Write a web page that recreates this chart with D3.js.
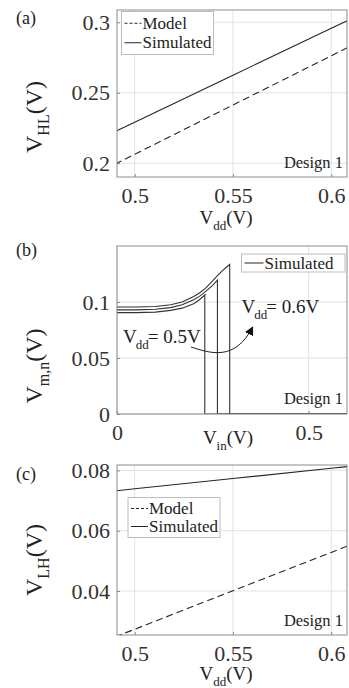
<!DOCTYPE html>
<html><head><meta charset="utf-8">
<script src="https://cdn.jsdelivr.net/npm/d3@7"></script>
<style>
body{margin:0;background:#fff;}
svg text{font-family:"Liberation Serif","Times New Roman",Times,Tinos,"DejaVu Serif","Noto Serif",serif;}
</style></head>
<body><svg id="c" width="349" height="688"></svg>
<script>
// ---------- data ----------
// Panel (a): V_HL vs Vdd
const vddA = [0.49, 0.5, 0.55, 0.6, 0.61];
const vhlModel = [0.1994, 0.2063, 0.2413, 0.2762, 0.2832];
const vhlSim   = [0.2224, 0.2291, 0.2624, 0.2957, 0.3024];
const xTicksVdd = [0.5, 0.55, 0.6];
const yTicksA = [0.2, 0.25, 0.3];

// Panel (b): V_m,n vs Vin for three Vdd
const vinB = [0, 0.05, 0.1, 0.14, 0.17, 0.2, 0.215, 0.23, 0.25, 0.262, 0.28, 0.294];
const vmn05 = [0.0905, 0.0905, 0.091, 0.0925, 0.0945, 0.0985, 0.102, 0.1065];
const vmn055 = [0.093, 0.093, 0.0935, 0.095, 0.0975, 0.102, 0.105, 0.109, 0.115, 0.1195];
const vmn06 = [0.0955, 0.0955, 0.096, 0.0975, 0.1, 0.105, 0.108, 0.112, 0.119, 0.1235, 0.1295, 0.1335];
const dropVin = [0.229, 0.262, 0.294];
const vinEnd = 0.6;
const xTicksB = [0, 0.5];
const yTicksB = [0, 0.05, 0.1];

// Panel (c): V_LH vs Vdd
const vddC = [0.49, 0.5, 0.55, 0.6, 0.61];
const vlhModel = [0.0248, 0.0273, 0.0401, 0.0528, 0.0554];
const vlhSim   = [0.0732, 0.0739, 0.0773, 0.0807, 0.0814];
const yTicksC = [0.04, 0.06, 0.08];

// ---------- layout ----------
const FONT = "'Liberation Serif','Times New Roman',Times,Tinos,'DejaVu Serif','Noto Serif',serif";
const svg = d3.select("#c").attr("font-family", FONT);
const L = 117, R = 347;
const ink = "#262626", axisCol = "#8c8c8c", gridCol = "#e3e3e3";

function panel(o){
  const g = svg.append("g");
  const x = d3.scaleLinear().domain(o.xd).range([L, R]);
  const y = d3.scaleLinear().domain(o.yd).range([o.bottom, o.top]);
  const clipId = "clip" + o.name;
  svg.append("clipPath").attr("id", clipId).append("rect")
    .attr("x", L).attr("y", o.top).attr("width", R - L).attr("height", o.bottom - o.top);
  g.selectAll(".gx").data(o.xt).join("line")
    .attr("x1", d => x(d)).attr("x2", d => x(d)).attr("y1", o.top).attr("y2", o.bottom)
    .attr("stroke", gridCol).attr("stroke-width", 1);
  g.selectAll(".gy").data(o.yt).join("line")
    .attr("y1", d => y(d)).attr("y2", d => y(d)).attr("x1", L).attr("x2", R)
    .attr("stroke", gridCol).attr("stroke-width", 1);
  const ax = g.append("g").attr("transform", `translate(0,${o.bottom})`)
    .call(d3.axisBottom(x).tickValues(o.xt).tickFormat(d => String(d)).tickSizeInner(-3).tickSizeOuter(0).tickPadding(10));
  const ay = g.append("g").attr("transform", `translate(${L},0)`)
    .call(d3.axisLeft(y).tickValues(o.yt).tickFormat(d => String(d)).tickSizeInner(-3).tickSizeOuter(0).tickPadding(7));
  [ax, ay].forEach(a => {
    a.attr("font-family", FONT).attr("font-size", 22);
    a.select(".domain").remove();
    a.selectAll(".tick line").attr("stroke", axisCol);
    a.selectAll(".tick text").attr("fill", "#333");
  });
  const plot = g.append("g").attr("clip-path", `url(#${clipId})`);
  g.append("rect").attr("x", L).attr("y", o.top).attr("width", R - L).attr("height", o.bottom - o.top)
    .attr("fill", "none").attr("stroke", axisCol).attr("stroke-width", 1);
  return {g, x, y, plot};
}

function label(g, s, x, y, size, anchor){
  return g.append("text").attr("x", x).attr("y", y).attr("font-size", size)
    .attr("fill", "#222").attr("text-anchor", anchor || "start").text(s);
}
function subLabel(g, base, sub, rest, x, y, size, subSize, rotate){
  const t = g.append("text").attr("font-size", size).attr("fill", "#222").attr("text-anchor", "middle");
  if (rotate) t.attr("transform", `translate(${x},${y}) rotate(-90)`);
  else t.attr("x", x).attr("y", y);
  t.append("tspan").text(base);
  t.append("tspan").attr("font-size", subSize).attr("dy", size * 0.3).text(sub);
  t.append("tspan").attr("dy", -size * 0.3).text(rest);
  return t;
}
function legend(g, x0, y0, w, rows, rowH, sampleW){
  g.append("rect").attr("x", x0).attr("y", y0).attr("width", w).attr("height", rows.length * rowH + 4)
    .attr("fill", "#fff").attr("stroke", "#bdbdbd").attr("stroke-width", 1);
  rows.forEach((r, i) => {
    const cy = y0 + 2 + rowH * (i + 0.5);
    g.append("line").attr("x1", x0 + 3).attr("x2", x0 + 3 + sampleW).attr("y1", cy).attr("y2", cy)
      .attr("stroke", ink).attr("stroke-width", 1).attr("stroke-dasharray", r.dash || null);
    g.append("text").attr("x", x0 + 4 + sampleW).attr("y", cy).attr("dy", "0.33em")
      .attr("font-size", 17).attr("fill", "#222").text(r.name);
  });
}

// ---------- panel (a) ----------
{
  const p = panel({name:"a", xd:[0.491, 0.608], yd:[0.1902, 0.3087], top:10, bottom:177, xt:xTicksVdd, yt:yTicksA});
  const line = d3.line().x((d, i) => p.x(vddA[i])).y(d => p.y(d));
  p.plot.append("path").attr("d", line(vhlModel)).attr("fill", "none").attr("stroke", ink).attr("stroke-width", 1.1).attr("stroke-dasharray", "7,4");
  p.plot.append("path").attr("d", line(vhlSim)).attr("fill", "none").attr("stroke", ink).attr("stroke-width", 1.1);
  legend(p.g, 121.5, 11.5, 92, [{name:"Model", dash:"3,2"}, {name:"Simulated"}], 19.5, 17);
  label(p.g, "Design 1", 343, 168, 16.5, "end");
  label(p.g, "(a)", 16, 24, 18);
  subLabel(p.g, "V", "dd", "(V)", 226, 224, 19, 13, false);
  subLabel(p.g, "V", "HL", "(V)", 42, 117, 24, 16, true);
}

// ---------- panel (b) ----------
{
  const p = panel({name:"b", xd:[0, 0.6], yd:[0, 0.15], top:246, bottom:414, xt:xTicksB, yt:yTicksB});
  const curves = [vmn05, vmn055, vmn06];
  curves.forEach((c, k) => {
    const pts = c.map((v, i) => [vinB[i], v]);
    pts.push([dropVin[k], c[c.length - 1]]);
    pts.push([dropVin[k], 0]);
    pts.push([vinEnd, 0]);
    p.plot.append("path").attr("d", d3.line().x(d => p.x(d[0])).y(d => p.y(d[1]))(pts))
      .attr("fill", "none").attr("stroke", "#333").attr("stroke-width", 1.1);
  });
  legend(p.g, 241.5, 254, 103.5, [{name:"Simulated"}], 14, 19);
  label(p.g, "Design 1", 343, 404, 16.5, "end");
  label(p.g, "(b)", 16, 256, 18);
  subLabel(p.g, "V", "in", "(V)", 228, 444, 19, 13, false);
  subLabel(p.g, "V", "m,n", "(V)", 42, 366, 24, 16, true);
  const ann = [{v:"0.5V", x:0.0156, y:0.0634}, {v:"0.6V", x:0.325, y:0.0899}];
  ann.forEach(a => {
    const t = p.g.append("text").attr("x", p.x(a.x)).attr("y", p.y(a.y)).attr("font-size", 19).attr("fill", "#222");
    t.append("tspan").text("V");
    t.append("tspan").attr("font-size", 13).attr("dx", -1).attr("dy", 6).text("dd");
    t.append("tspan").attr("dx", -1).attr("dy", -6).text("= " + a.v);
  });
  svg.append("defs").append("marker").attr("id", "ah").attr("viewBox", "0 0 10 10")
    .attr("refX", 9).attr("refY", 5).attr("markerWidth", 9).attr("markerHeight", 9)
    .attr("markerUnits", "userSpaceOnUse").attr("orient", "auto")
    .append("path").attr("d", "M0,0 L10,5 L0,10 z").attr("fill", "#111");
  const arrow = [[0.193, 0.0598], [0.242, 0.0545], [0.307, 0.0464], [0.354, 0.0777]];
  const ap = arrow.map(d => [p.x(d[0]), p.y(d[1])]);
  p.g.append("path").attr("d", `M${ap[0]} C${ap[1]} ${ap[2]} ${ap[3]}`)
    .attr("fill", "none").attr("stroke", "#222").attr("stroke-width", 1).attr("marker-end", "url(#ah)");
}

// ---------- panel (c) ----------
{
  const p = panel({name:"c", xd:[0.491, 0.608], yd:[0.0254, 0.0818], top:465, bottom:635, xt:xTicksVdd, yt:yTicksC});
  const line = d3.line().x((d, i) => p.x(vddC[i])).y(d => p.y(d));
  p.plot.append("path").attr("d", line(vlhModel)).attr("fill", "none").attr("stroke", ink).attr("stroke-width", 1.1).attr("stroke-dasharray", "7,4");
  p.plot.append("path").attr("d", line(vlhSim)).attr("fill", "none").attr("stroke", ink).attr("stroke-width", 1.1);
  legend(p.g, 128, 497.5, 92, [{name:"Model", dash:"3,2"}, {name:"Simulated"}], 18, 17);
  label(p.g, "Design 1", 343, 626, 16.5, "end");
  label(p.g, "(c)", 16, 480, 18);
  subLabel(p.g, "V", "dd", "(V)", 226, 680, 19, 13, false);
  subLabel(p.g, "V", "LH", "(V)", 42, 560, 24, 16, true);
}
</script></body></html>
